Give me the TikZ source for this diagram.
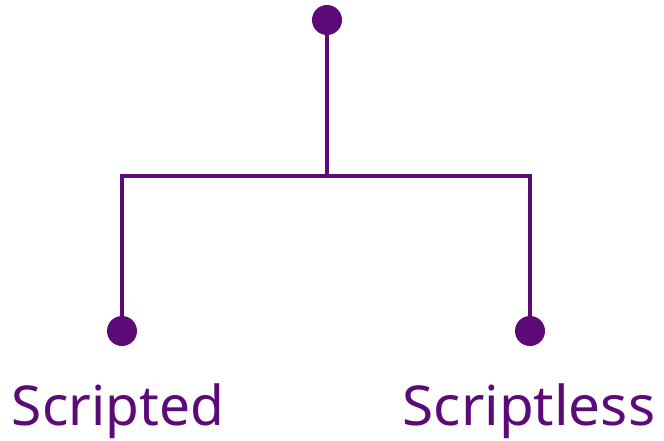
\documentclass[tikz,border=0pt]{standalone}
\usepackage{fontspec}
\setmainfont{Noto Sans}
\definecolor{tree}{HTML}{5B0A78}
\begin{document}
\begin{tikzpicture}[x=1pt,y=-1pt,
  dot/.style={circle,fill=tree,inner sep=0pt,minimum size=30pt},
  link/.style={draw=tree,line width=4pt},
  lbl/.style={text=tree,font=\fontsize{55}{60}\selectfont,inner sep=0pt}]
\useasboundingbox (0,0) rectangle (664,440);
\node[dot] (top) at (327,20) {};
\coordinate (mid) at (327,176);
\node[dot] (left) at (122,331) {};
\node[dot] (right) at (530,331) {};
\draw[link] (top.center) -- (mid) -| (left.center);
\draw[link] (mid) -| (right.center);
\node[lbl,anchor=base] (ls) at (118,425) {Scripted};
\node[lbl,anchor=base,xscale=1.03] (rs) at (529,425) {Scriptless};
\end{tikzpicture}
\end{document}
